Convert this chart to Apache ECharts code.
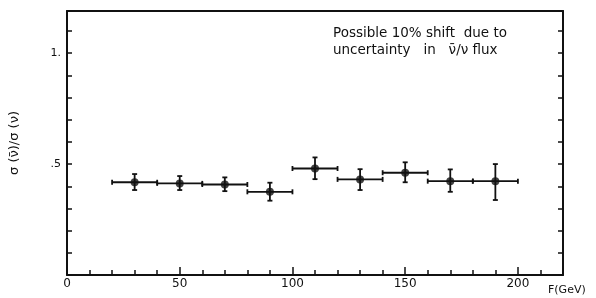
<!DOCTYPE html>
<html>
<head>
<meta charset="utf-8">
<script src="https://cdn.jsdelivr.net/npm/echarts@6/dist/echarts.min.js"></script>
<style>
  html, body { margin: 0; padding: 0; background: #fff; }
  #chart { width: 596px; height: 298px; }
</style>
</head>
<body>
<div id="chart"></div>
<script>
// energy bin centres and edges (GeV)
const energy = [30, 50, 70, 90, 110, 130, 150, 170, 190];
const binLow = [20, 40, 60, 80, 100, 120, 140, 160, 180];
const binHigh = [40, 60, 80, 100, 120, 140, 160, 180, 200];
// sigma(nubar)/sigma(nu) and its error band
const ratio = [0.418, 0.413, 0.408, 0.375, 0.48, 0.431, 0.461, 0.423, 0.423];
const ratioLow = [0.383, 0.383, 0.378, 0.335, 0.432, 0.383, 0.418, 0.375, 0.338];
const ratioHigh = [0.455, 0.446, 0.44, 0.416, 0.53, 0.477, 0.508, 0.476, 0.5];

const font = "DejaVu Sans";
const ink = "#111";

const chart = echarts.init(document.getElementById("chart"));

// error bars drawn through the axes' coordinate system
const errData = energy.map((e, i) => [e, ratio[i], binLow[i], binHigh[i], ratioLow[i], ratioHigh[i]]);

const renderErr = (params, api) => {
  const c = api.coord([api.value(0), api.value(1)]);
  const l = api.coord([api.value(2), api.value(1)]);
  const r = api.coord([api.value(3), api.value(1)]);
  const lo = api.coord([api.value(0), api.value(4)]);
  const hi = api.coord([api.value(0), api.value(5)]);
  const st = { stroke: ink, lineWidth: 1.8 };
  const ln = (x1, y1, x2, y2) => ({ type: "line", shape: { x1, y1, x2, y2 }, style: st });
  return {
    type: "group",
    children: [
      ln(l[0], c[1], r[0], c[1]),
      ln(l[0], c[1] - 2.5, l[0], c[1] + 2.5),
      ln(r[0], c[1] - 2.5, r[0], c[1] + 2.5),
      ln(c[0], lo[1], c[0], hi[1]),
      ln(c[0] - 2.5, lo[1], c[0] + 2.5, lo[1]),
      ln(c[0] - 2.5, hi[1], c[0] + 2.5, hi[1]),
    ],
  };
};

chart.setOption({
  animation: false,
  grid: { left: 67, right: 33, top: 11, bottom: 23, outerBoundsMode: "none", containLabel: false },
  xAxis: [
    {
      type: "value",
      min: 0,
      max: 220,
      interval: 50,
      axisLine: { show: true, onZero: false, lineStyle: { color: ink, width: 2 } },
      axisTick: { show: true, inside: true, length: 8, lineStyle: { color: ink, width: 1.5 } },
      minorTick: { show: true, splitNumber: 5, length: 5, lineStyle: { color: ink, width: 1.5 } },
      axisLabel: {
        margin: 3,
        color: ink,
        fontFamily: font,
        fontSize: 12,
        showMaxLabel: false,
      },
      splitLine: { show: false },
    },
    {
      type: "value",
      position: "top",
      min: 0,
      max: 220,
      axisLine: { show: true, onZero: false, lineStyle: { color: ink, width: 2 } },
      axisTick: { show: false },
      axisLabel: { show: false },
      splitLine: { show: false },
    },
  ],
  yAxis: [
    {
      type: "value",
      min: 0,
      max: 1.19,
      interval: 0.1,
      name: "σ (ν̄)/σ (ν)",
      nameLocation: "middle",
      nameGap: 46,
      nameRotate: 90,
      nameTextStyle: { color: ink, fontFamily: font, fontSize: 13 },
      axisLine: { show: true, onZero: false, lineStyle: { color: ink, width: 2 } },
      axisTick: { show: true, inside: true, length: 5, lineStyle: { color: ink, width: 1.5 } },
      axisLabel: {
        margin: 6,
        color: ink,
        fontFamily: font,
        fontSize: 11,
        formatter: (v) => (Math.abs(v - 1) < 1e-6 ? "1." : Math.abs(v - 0.5) < 1e-6 ? ".5" : ""),
      },
      splitLine: { show: false },
    },
    {
      type: "value",
      position: "right",
      min: 0,
      max: 1.19,
      interval: 0.1,
      axisLine: { show: true, onZero: false, lineStyle: { color: ink, width: 2 } },
      axisTick: { show: true, inside: true, length: 5, lineStyle: { color: ink, width: 1.5 } },
      axisLabel: { show: false },
      splitLine: { show: false },
    },
  ],
  graphic: [
    {
      type: "text",
      left: 333,
      top: 25,
      style: {
        text: "Possible 10% shift  due to\nuncertainty   in   ν̄/ν flux",
        fill: ink,
        font: "13.5px " + font,
        lineHeight: 17,
      },
    },
    {
      type: "text",
      left: 548,
      top: 285,
      style: { text: "F(GeV)", fill: ink, font: "11px " + font },
    },
  ],
  series: [
    {
      type: "custom",
      renderItem: renderErr,
      data: errData,
      encode: { x: 0, y: 1 },
      z: 2,
    },
    {
      type: "scatter",
      data: energy.map((e, i) => [e, ratio[i]]),
      symbol: "circle",
      symbolSize: 8,
      itemStyle: { color: ink },
      z: 3,
    },
  ],
});
</script>
</body>
</html>
